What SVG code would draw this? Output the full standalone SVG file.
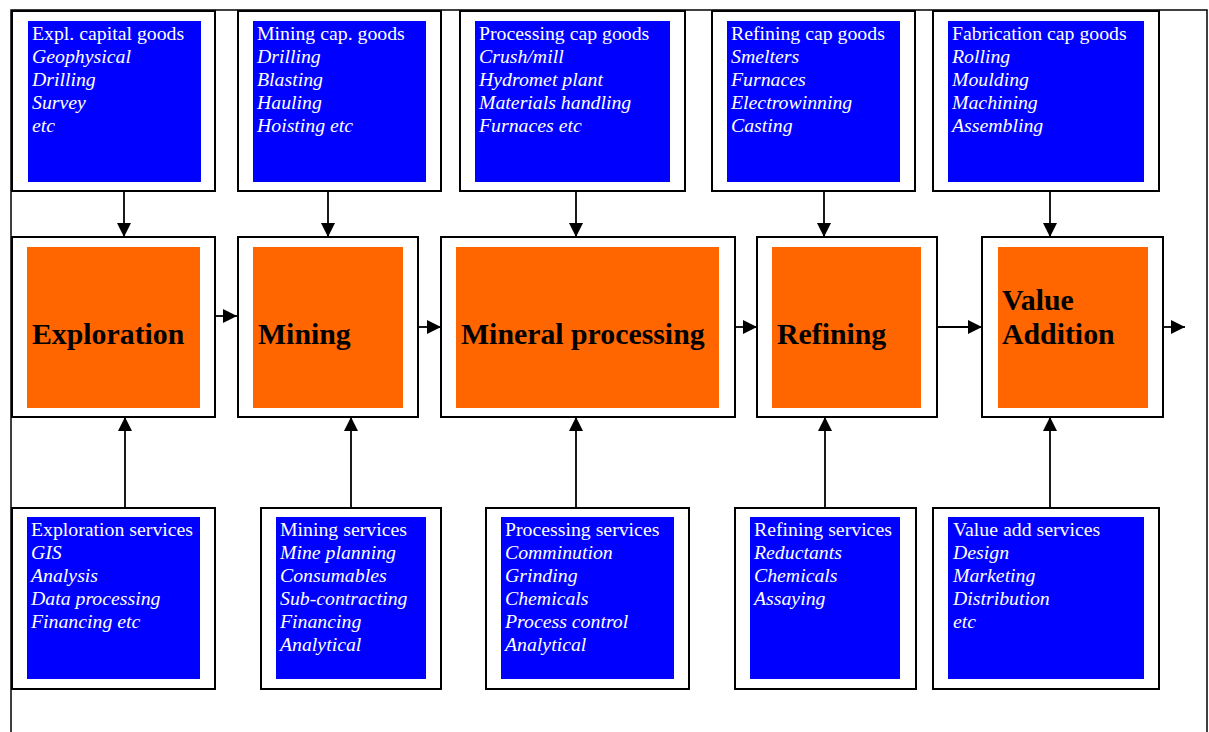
<svg xmlns="http://www.w3.org/2000/svg" width="1209" height="732" viewBox="0 0 1209 732">
  <style>
    .frame { fill: none; stroke: #000; stroke-width: 1.5; }
    .box { fill: #fff; stroke: #000; stroke-width: 2; }
    .blue { fill: #0000ff; }
    .orange { fill: #ff6600; }
    .txt { font-family: "Liberation Serif", "Times New Roman", serif; font-size: 19.8px; fill: #fff; }
    .txt .it { font-style: italic; }
    .stage { font-family: "Liberation Serif", "Times New Roman", serif; font-size: 29.8px; font-weight: bold; fill: #000; }
    .conn { stroke: #000; stroke-width: 1.8; fill: none; marker-end: url(#arrow); }
  </style>
  <defs>
    <marker id="arrow" markerUnits="userSpaceOnUse" markerWidth="14" markerHeight="14" refX="14" refY="7" orient="auto">
      <path d="M0,0 L14,7 L0,14 Z" fill="#000"/>
    </marker>
  </defs>

  <rect width="1209" height="732" fill="#fff"/>

  <!-- page frame (open at the bottom) -->
  <path class="frame" d="M11,732 V10 H1207 V732"/>

  <!-- capital goods suppliers (top row) -->
  <g id="cap-exploration">
    <rect class="box" x="12" y="11" width="203" height="180"/>
    <rect class="blue" x="28" y="21" width="173" height="161"/>
    <text class="txt"><tspan x="32" y="40">Expl. capital goods</tspan><tspan class="it" x="32" y="62.5">Geophysical</tspan><tspan class="it" x="32" y="85.5">Drilling</tspan><tspan class="it" x="32" y="108.5">Survey</tspan><tspan class="it" x="32" y="131.5">etc</tspan></text>
  </g>
  <g id="cap-mining">
    <rect class="box" x="238" y="11" width="203" height="180"/>
    <rect class="blue" x="253" y="21" width="173" height="161"/>
    <text class="txt"><tspan x="257" y="40">Mining cap. goods</tspan><tspan class="it" x="257" y="62.5">Drilling</tspan><tspan class="it" x="257" y="85.5">Blasting</tspan><tspan class="it" x="257" y="108.5">Hauling</tspan><tspan class="it" x="257" y="131.5">Hoisting etc</tspan></text>
  </g>
  <g id="cap-processing">
    <rect class="box" x="460" y="11" width="225" height="180"/>
    <rect class="blue" x="475" y="21" width="195" height="161"/>
    <text class="txt"><tspan x="479" y="40">Processing cap goods</tspan><tspan class="it" x="479" y="62.5">Crush/mill</tspan><tspan class="it" x="479" y="85.5">Hydromet plant</tspan><tspan class="it" x="479" y="108.5">Materials handling</tspan><tspan class="it" x="479" y="131.5">Furnaces etc</tspan></text>
  </g>
  <g id="cap-refining">
    <rect class="box" x="712" y="11" width="203" height="180"/>
    <rect class="blue" x="727" y="21" width="173" height="161"/>
    <text class="txt"><tspan x="731" y="40">Refining cap goods</tspan><tspan class="it" x="731" y="62.5">Smelters</tspan><tspan class="it" x="731" y="85.5">Furnaces</tspan><tspan class="it" x="731" y="108.5">Electrowinning</tspan><tspan class="it" x="731" y="131.5">Casting</tspan></text>
  </g>
  <g id="cap-fabrication">
    <rect class="box" x="933" y="11" width="226" height="180"/>
    <rect class="blue" x="948" y="21" width="196" height="161"/>
    <text class="txt"><tspan x="952" y="40">Fabrication cap goods</tspan><tspan class="it" x="952" y="62.5">Rolling</tspan><tspan class="it" x="952" y="85.5">Moulding</tspan><tspan class="it" x="952" y="108.5">Machining</tspan><tspan class="it" x="952" y="131.5">Assembling</tspan></text>
  </g>

  <!-- value chain stages (middle row) -->
  <g id="stage-exploration">
    <rect class="box" x="12" y="237" width="203" height="180"/>
    <rect class="orange" x="27" y="247" width="173" height="161"/>
    <text class="stage" x="32" y="343.5">Exploration</text>
  </g>
  <g id="stage-mining">
    <rect class="box" x="238" y="237" width="180" height="180"/>
    <rect class="orange" x="253" y="247" width="150" height="161"/>
    <text class="stage" x="258" y="343.5">Mining</text>
  </g>
  <g id="stage-processing">
    <rect class="box" x="441" y="237" width="294" height="180"/>
    <rect class="orange" x="456" y="247" width="263" height="161"/>
    <text class="stage" x="461" y="344">Mineral processing</text>
  </g>
  <g id="stage-refining">
    <rect class="box" x="757" y="237" width="180" height="180"/>
    <rect class="orange" x="772" y="247" width="149" height="161"/>
    <text class="stage" x="777" y="344">Refining</text>
  </g>
  <g id="stage-value-addition">
    <rect class="box" x="982" y="237" width="181" height="180"/>
    <rect class="orange" x="998" y="247" width="150" height="161"/>
    <text class="stage"><tspan x="1002" y="309.5">Value</tspan><tspan x="1002" y="344">Addition</tspan></text>
  </g>

  <!-- service suppliers (bottom row) -->
  <g id="svc-exploration">
    <rect class="box" x="12" y="508" width="203" height="181"/>
    <rect class="blue" x="27" y="517" width="173" height="162"/>
    <text class="txt"><tspan x="31" y="536">Exploration services</tspan><tspan class="it" x="31" y="559">GIS</tspan><tspan class="it" x="31" y="582">Analysis</tspan><tspan class="it" x="31" y="605">Data processing</tspan><tspan class="it" x="31" y="628">Financing etc</tspan></text>
  </g>
  <g id="svc-mining">
    <rect class="box" x="261" y="508" width="180" height="181"/>
    <rect class="blue" x="276" y="517" width="150" height="162"/>
    <text class="txt"><tspan x="280" y="536">Mining services</tspan><tspan class="it" x="280" y="559">Mine planning</tspan><tspan class="it" x="280" y="582">Consumables</tspan><tspan class="it" x="280" y="605">Sub-contracting</tspan><tspan class="it" x="280" y="628">Financing</tspan><tspan class="it" x="280" y="651">Analytical</tspan></text>
  </g>
  <g id="svc-processing">
    <rect class="box" x="486" y="508" width="203" height="181"/>
    <rect class="blue" x="501" y="517" width="173" height="162"/>
    <text class="txt"><tspan x="505" y="536">Processing services</tspan><tspan class="it" x="505" y="559">Comminution</tspan><tspan class="it" x="505" y="582">Grinding</tspan><tspan class="it" x="505" y="605">Chemicals</tspan><tspan class="it" x="505" y="628">Process control</tspan><tspan class="it" x="505" y="651">Analytical</tspan></text>
  </g>
  <g id="svc-refining">
    <rect class="box" x="735" y="508" width="181" height="181"/>
    <rect class="blue" x="750" y="517" width="150" height="162"/>
    <text class="txt"><tspan x="754" y="536">Refining services</tspan><tspan class="it" x="754" y="559">Reductants</tspan><tspan class="it" x="754" y="582">Chemicals</tspan><tspan class="it" x="754" y="605">Assaying</tspan></text>
  </g>
  <g id="svc-value-addition">
    <rect class="box" x="933" y="508" width="226" height="181"/>
    <rect class="blue" x="948" y="517" width="196" height="162"/>
    <text class="txt"><tspan x="953" y="536">Value add services</tspan><tspan class="it" x="953" y="559">Design</tspan><tspan class="it" x="953" y="582">Marketing</tspan><tspan class="it" x="953" y="605">Distribution</tspan><tspan class="it" x="953" y="628">etc</tspan></text>
  </g>

  <!-- connectors -->
  <g id="connectors">
    <!-- capital goods feed down into each stage -->
    <line class="conn" x1="124" y1="191" x2="124" y2="237"/>
    <line class="conn" x1="328" y1="191" x2="328" y2="237"/>
    <line class="conn" x1="576" y1="191" x2="576" y2="237"/>
    <line class="conn" x1="824" y1="191" x2="824" y2="237"/>
    <line class="conn" x1="1050" y1="191" x2="1050" y2="237"/>
    <!-- services feed up into each stage -->
    <line class="conn" x1="125" y1="508" x2="125" y2="417"/>
    <line class="conn" x1="351" y1="508" x2="351" y2="417"/>
    <line class="conn" x1="576" y1="508" x2="576" y2="417"/>
    <line class="conn" x1="825" y1="508" x2="825" y2="417"/>
    <line class="conn" x1="1050" y1="508" x2="1050" y2="417"/>
    <!-- stage to stage flow -->
    <line class="conn" x1="214" y1="316" x2="237" y2="316"/>
    <line class="conn" x1="418" y1="327" x2="441" y2="327"/>
    <line class="conn" x1="735" y1="327" x2="757" y2="327"/>
    <line class="conn" x1="937" y1="327" x2="982" y2="327"/>
    <line class="conn" x1="1163" y1="327" x2="1185" y2="327"/>
  </g>
</svg>
